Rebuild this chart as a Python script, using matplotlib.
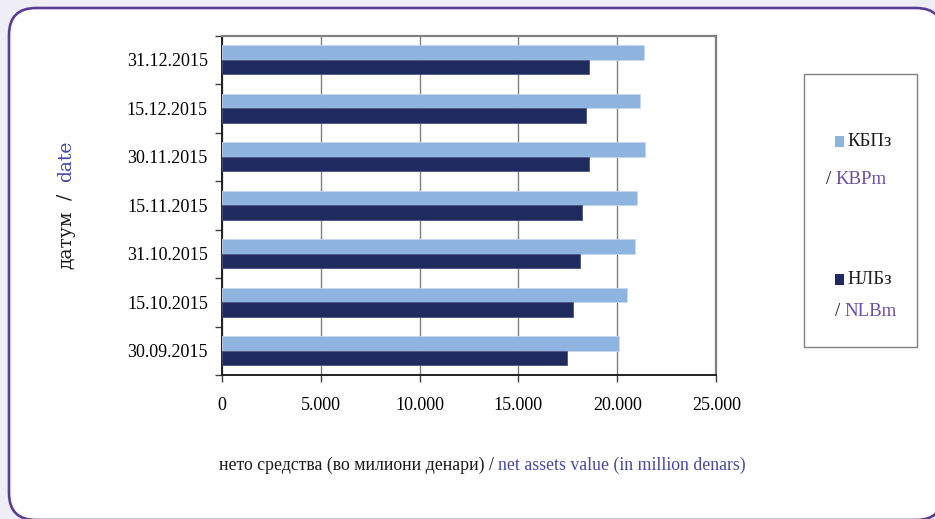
import matplotlib
matplotlib.use("Agg")
import matplotlib.pyplot as plt
import numpy as np
from matplotlib.patches import FancyBboxPatch, Rectangle

# ---- data ----
dates = ["30.09.2015", "15.10.2015", "31.10.2015", "15.11.2015",
         "30.11.2015", "15.12.2015", "31.12.2015"]
kbp_values = [20100, 20470, 20890, 20990, 21410, 21140, 21360]
nlb_values = [17455, 17780, 18100, 18210, 18550, 18400, 18550]
series_mk = ["КБПз", "НЛБз"]
series_en = ["KBPm", "NLBm"]
xticks = [0, 5000, 10000, 15000, 20000, 25000]
xtick_labels = ["0", "5.000", "10.000", "15.000", "20.000", "25.000"]

W, H = 935, 519
C_LIGHT = "#8fb4df"
C_DARK = "#1f2a5e"
C_PURPLE = "#6a4ea8"
C_BLUE = "#4848a6"
FONT = "Liberation Serif"

fig = plt.figure(figsize=(W / 100, H / 100), dpi=100)
fig.patch.set_facecolor("#efeef6")

# rounded frame
frame = FancyBboxPatch((0.09, -0.01), 9.34, 5.12,
                       boxstyle="round,pad=0,rounding_size=0.27",
                       transform=fig.dpi_scale_trans, facecolor="white",
                       edgecolor="#5a3d96", linewidth=1.9, zorder=-5)
fig.patches.append(frame)

def px(x, y):
    return x / W, 1 - y / H

ax = fig.add_axes([221.7 / W, 1 - 375 / H, 494.6 / W, 339.3 / H])
ax.set_zorder(2)
ax.set_facecolor("white")
y = np.arange(len(dates))
h = 0.3
ax.barh(y + h / 2, kbp_values, height=h, color=C_LIGHT, edgecolor="#c5d8ef",
        linewidth=0.6, zorder=3)
ax.barh(y - h / 2, nlb_values, height=h, color=C_DARK, edgecolor="#4a5480",
        linewidth=0.6, zorder=3)
ax.set_xlim(0, 25000)
ax.set_ylim(-0.5, len(dates) - 0.5)
ax.set_xticks(xticks)
ax.set_xticklabels(xtick_labels, fontfamily=FONT, fontsize=13)
ax.set_yticks(np.arange(-0.5, len(dates), 1.0))
ax.set_yticklabels([])
ax.set_yticks(y, minor=True)
ax.set_yticklabels(dates, minor=True, fontfamily=FONT, fontsize=13)
ax.tick_params(axis="y", which="major", length=5, width=1, color="#404040")
ax.tick_params(axis="y", which="minor", length=0, pad=10)
ax.tick_params(axis="x", which="major", length=5, width=1, color="#404040", pad=11)
ax.grid(axis="x", color="#808080", linewidth=1, zorder=1)
ax.set_axisbelow(True)
for s in ["top", "right"]:
    ax.spines[s].set_color("#808080")
    ax.spines[s].set_linewidth(1.6)
for s in ["left", "bottom"]:
    ax.spines[s].set_color("#202020")
    ax.spines[s].set_linewidth(1.4)

fig.canvas.draw()
r = fig.canvas.get_renderer()

# x label, two colours
def hline(pieces, xc, yc, size, family=FONT, gap=4):
    ts = [fig.text(0, 1 - yc / H, s, color=c, fontsize=size, fontfamily=family,
                   va="center", ha="left", zorder=3) for s, c in pieces]
    ws = [t.get_window_extent(r).width for t in ts]
    total = sum(ws) + gap * (len(ts) - 1)
    x = xc - total / 2
    for t, w in zip(ts, ws):
        t.set_x(x / W)
        x += w + gap
    return ts

hline([("нето средства (во милиони денари) /", "#1a1a1a"),
       ("net assets value (in million denars)", C_BLUE)], 482, 465, 12.8)

# y label, rotated two colours
def vline(pieces, xc, ybottom, size, family, gap=6):
    yy = ybottom
    for s, c in pieces:
        t = fig.text(xc / W, 1 - yy / H, s, color=c, fontsize=size, zorder=3,
                     fontfamily=family, rotation=90, ha="center", va="bottom")
        hgt = t.get_window_extent(r).height
        yy -= hgt + gap

vline([("датум", "#1a1a1a"), ("/", "#1a1a1a"), ("date", C_BLUE)], 66, 269, 13.5,
      "DejaVu Serif", gap=11)

# legend box
fig.patches.append(Rectangle(px(804, 347), 113 / W, 273 / H, transform=fig.transFigure,
                             facecolor="white", edgecolor="#808080", linewidth=1,
                             zorder=1))
for (colr, mk, en, ysq, yen, xsl) in [(C_LIGHT, series_mk[0], series_en[0], 141.5, 180, 826),
                                      (C_DARK, series_mk[1], series_en[1], 279, 312, 835)]:
    fig.patches.append(Rectangle(px(835, ysq + 5.5), 9 / W, 11 / H,
                                 transform=fig.transFigure, facecolor=colr,
                                 edgecolor="none", zorder=2))
    fig.text(*px(847, ysq), mk, fontsize=13.5, fontfamily=FONT, color="#1a1a1a",
             va="center", ha="left", zorder=3)
    t = fig.text(*px(xsl, yen), "/", fontsize=13.5, fontfamily=FONT, color="#1a1a1a",
                 va="center", ha="left", zorder=3)
    w = t.get_window_extent(r).width
    fig.text((xsl + w + 4) / W, 1 - yen / H, en, fontsize=13.5, fontfamily=FONT,
             color=C_PURPLE, va="center", ha="left", zorder=3)

fig.savefig("out.png", dpi=100, facecolor=fig.get_facecolor())
